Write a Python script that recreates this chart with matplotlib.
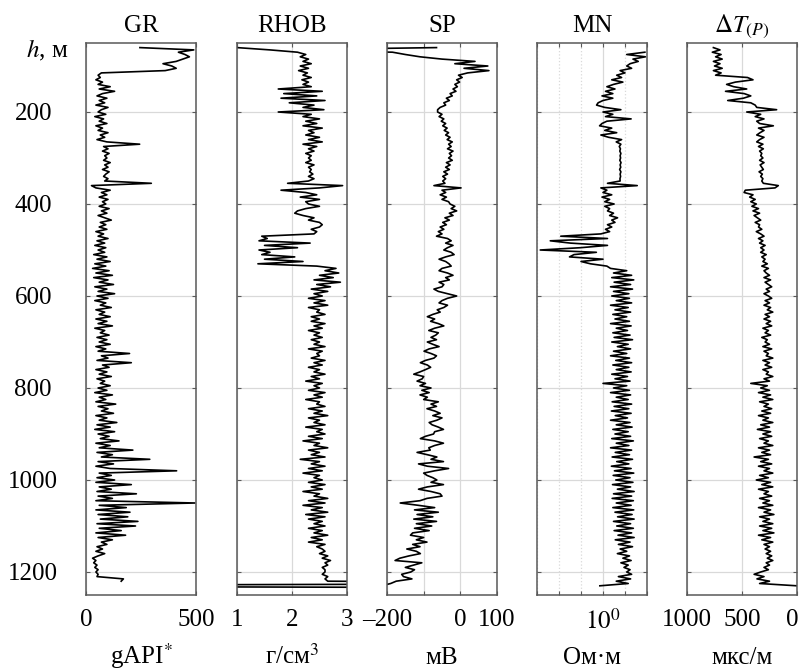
import numpy as np
import matplotlib
matplotlib.use("Agg")
import matplotlib.pyplot as plt
from matplotlib.ticker import NullLocator
from matplotlib.transforms import ScaledTranslation

nan = np.nan

# depth samples, m (one reading every 5 m, 50 ... 1250)
depth = np.arange(50, 1251, 5)

# GR, gAPI
gr = [
    nan, nan, 245, 490, 420, 450, 470, 440, 410, 350,
    390, 410, 360, 70, 55, 65, 45, 75, 55, 110,
    60, 130, 75, 50, 95, 60, 85, 45, 100, 70,
    55, 90, 40, 80, 60, 95, 45, 75, 55, 100,
    65, 85, 50, 95, 244, 80, 100, 75, 105, 85,
    95, 80, 110, 85, 100, 75, 105, 90, 80, 100,
    85, 297, 25, 45, 110, 70, 95, 60, 100, 75,
    90, 60, 105, 70, 95, 55, 85, 115, 65, 90,
    60, 95, 45, 80, 55, 100, 50, 85, 40, 90,
    55, 85, 35, 95, 50, 110, 40, 90, 30, 105,
    45, 120, 35, 100, 60, 125, 40, 95, 55, 130,
    50, 100, 40, 90, 65, 115, 45, 85, 60, 110,
    45, 95, 55, 120, 40, 85, 65, 105, 50, 95,
    60, 110, 45, 90, 55, 198, 70, 100, 50, 206,
    75, 105, 45, 95, 60, 115, 50, 85, 65, 110,
    55, 95, 40, 120, 60, 90, 45, 135, 55, 100,
    70, 125, 45, 95, 60, 140, 50, 110, 40, 130,
    55, 105, 65, 150, 45, 110, 60, 213, 50, 120,
    70, 290, 55, 125, 45, 110, 412, 60, 115, 50,
    130, 45, 206, 60, 115, 50, 229, 55, 120, 45,
    495, 60, 183, 45, 200, 55, 190, 65, 236, 50,
    225, 60, 160, 45, 180, 55, 120, 70, 95, 50,
    75, 45, 85, 55, 30, 45, 35, 50, 40, 55,
    45, 55, 50, 170, 160, nan, nan, nan, nan, nan,
    nan,
]

# RHOB, g/cm3
rhob = [
    nan, nan, 1.0, 1.6, 2.1, 2.25, 2.15, 2.3, 2.2, 2.35,
    2.15, 2.3, 2.12, 2.28, 2.2, 2.35, 2.18, 2.3, 2.2, 2.35,
    1.75, 2.55, 1.85, 2.45, 1.8, 2.6, 1.95, 2.4, 2.2, 2.58,
    1.75, 2.35, 2.2, 2.5, 2.25, 2.45, 2.2, 2.55, 2.3, 2.4,
    2.25, 2.5, 2.3, 2.55, 2.2, 2.45, 2.3, 2.4, 2.25, 2.35,
    2.3, 2.35, 2.25, 2.4, 2.3, 2.35, 2.32, 2.38, 2.3, 2.4,
    2.3, 1.92, 2.92, 2.5, 1.8, 2.25, 2.45, 2.15, 2.5, 2.25,
    2.3, 2.5, 2.25, 2.1, 2.05, 2.2, 2.4, 2.3, 2.5, 2.55,
    2.5, 2.35, 2.45, 2.4, 1.45, 1.55, 1.4, 2.33, 1.5, 2.1,
    1.4, 1.6, 1.45, 2.05, 1.5, 2.2, 1.38, 2.45, 2.8, 2.6,
    2.85, 2.5, 2.75, 2.4, 2.88, 2.45, 2.7, 2.35, 2.65, 2.4,
    2.55, 2.3, 2.6, 2.4, 2.65, 2.3, 2.5, 2.45, 2.6, 2.35,
    2.5, 2.35, 2.6, 2.4, 2.55, 2.3, 2.5, 2.4, 2.55, 2.35,
    2.5, 2.4, 2.6, 2.3, 2.55, 2.45, 2.5, 2.35, 2.6, 2.4,
    2.55, 2.3, 2.5, 2.4, 2.6, 2.35, 2.5, 2.25, 2.55, 2.4,
    2.5, 2.3, 2.6, 2.4, 2.55, 2.25, 2.5, 2.45, 2.6, 2.3,
    2.55, 2.4, 2.65, 2.3, 2.5, 2.4, 2.6, 2.25, 2.55, 2.45,
    2.6, 2.3, 2.55, 2.2, 2.5, 2.4, 2.65, 2.3, 2.5, 2.35,
    2.6, 2.15, 2.5, 2.35, 2.6, 2.3, 2.55, 2.2, 2.5, 2.4,
    2.55, 2.3, 2.6, 2.35, 2.55, 2.2, 2.5, 2.4, 2.65, 2.3,
    2.6, 2.2, 2.55, 2.35, 2.65, 2.25, 2.6, 2.3, 2.55, 2.4,
    2.6, 2.3, 2.55, 2.4, 2.65, 2.35, 2.55, 2.3, 2.6, 2.45,
    2.55, 2.6, 2.5, 2.65, 2.55, 2.7, 2.6, 2.65, 2.55, 2.6,
    2.6, 2.55, 2.65, 2.6, 2.65, 9, -7, 9, nan, nan,
    nan,
]

# SP, mV
sp = [
    nan, nan, -65, -500, -185, -150, -110, -50, 40, -15,
    75, 10, 78, 20, -5, 5, -10, -2, -15, -8,
    -20, -12, -28, -22, -38, -30, -45, -40, -55, -62,
    -62, -50, -58, -45, -52, -40, -48, -36, -44, -32,
    -40, -28, -36, -22, -32, -25, -35, -20, -30, -24,
    -32, -22, -38, -28, -40, -30, -45, -35, -48, -40,
    -48, -42, -72, 2, -50, -40, -55, -38, -50, -32,
    -28, -15, -25, -10, -30, -20, -42, -30, -48, -38,
    -55, -45, -60, -50, -65, -35, -25, -40, -20, -35,
    -45, -25, -17, -40, -58, -40, -31, -25, -50, -58,
    -35, -20, -40, -30, -58, -45, -50, -72, -60, -35,
    -10, -35, -50, -58, -35, -45, -63, -55, -75, -90,
    -70, -81, -60, -45, -70, -86, -60, -67, -80, -65,
    -90, -75, -58, -85, -99, -80, -65, -72, -95, -109,
    -90, -81, -95, -110, -127, -100, -104, -118, -95, -110,
    -80, -105, -85, -110, -90, -100, -60, -80, -65, -91,
    -70, -55, -75, -50, -64, -85, -77, -60, -46, -70,
    -73, -95, -109, -70, -46, -70, -86, -82, -118, -90,
    -64, -80, -46, -114, -90, -32, -70, -100, -91, -75,
    -64, -80, -46, -90, -114, -80, -55, -50, -91, -110,
    -164, -115, -70, -125, -60, -118, -75, -127, -65, -120,
    -78, -125, -85, -130, -136, -100, -120, -91, -130, -110,
    -146, -120, -109, -140, -165, -178, -105, -127, -150, -125,
    -135, -160, -155, -132, -175, -190, -215, nan, nan, nan,
    nan,
]

# MN resistivity, Ohm*m
mn = [
    nan, nan, nan, nan, 80, 12, 85, 23, 40, 17,
    12, 20, 6, 10, 4.2, 7, 2.5, 8, 3, 1.5,
    3.5, 1.3, 2.8, 0.9, 2.8, 1.0, 0.6, 0.51, 1.2, 6.5,
    1.0, 2.8, 1.3, 19, 1.5, 0.9, 0.7, 2.5, 1.2, 4.2,
    0.8, 1.8, 7, 4, 6.5, 5.5, 6.2, 5.8, 6.5, 6,
    6.3, 5.8, 6.6, 6, 6.4, 5.7, 6.5, 6, 6.3, 5.9,
    6, 1.6, 36, 0.8, 1.5, 1.0, 2.5, 0.9, 2.0, 1.2,
    3.2, 1.2, 2.0, 1.6, 3.0, 2.0, 4.6, 2.5, 3.5, 1.6,
    2.5, 1.3, 2.0, 0.8, 0.012, 1.6, 0.004, 0.033, 1.6, 0.095,
    0.0014, 0.5, 0.048, 0.03, 1.0, 0.1, 0.27, 1.5, 2.2, 12,
    3, 20, 2.5, 25, 3.2, 18, 2.2, 22, 3, 15,
    2.5, 16, 4, 20, 2.2, 14, 3.5, 18, 2.8, 12,
    3.5, 16, 2.2, 19, 4, 13, 2.8, 17, 3.2, 22,
    2.5, 14, 4.5, 18, 3, 12, 2.2, 16, 3.8, 20,
    2.8, 15, 4, 19, 2.5, 13, 3.5, 17, 1.0, 12,
    3, 16, 2.2, 18, 4, 14, 2.6, 20, 3.2, 15,
    2.4, 19, 3.6, 13, 2.2, 17, 4, 21, 2.8, 14,
    3.5, 18, 2.5, 24, 4, 15, 2.2, 20, 3.6, 16,
    2.6, 22, 4.2, 15, 2.4, 19, 3.3, 25, 2.9, 17,
    3.8, 23, 2.7, 18, 4.5, 26, 3, 20, 2.6, 24,
    4, 19, 2.8, 25, 3.5, 21, 4.6, 26, 3, 18,
    4.2, 24, 3.2, 20, 4.8, 26, 3.6, 17, 5, 22,
    6, 12, 4.5, 16, 8, 19, 6.5, 14, 9, 17,
    12, 20, 5, 18, 4, 14, 0.72, nan, nan, nan,
    nan,
]

# P-wave slowness, us/m
dt = [
    nan, nan, 760, 700, 770, 690, 740, 680, 760, 700,
    750, 680, 760, 690, 740, 450, 400, 560, 640, 575,
    457, 650, 480, 420, 487, 630, 420, 380, 366, 185,
    457, 330, 380, 300, 366, 340, 215, 350, 300, 336,
    366, 300, 340, 366, 310, 350, 306, 340, 320, 330,
    310, 340, 300, 335, 320, 306, 345, 315, 330, 310,
    320, 306, 170, 200, 470, 481, 400, 430, 380, 420,
    370, 410, 350, 400, 340, 390, 360, 330, 380, 340,
    350, 320, 370, 330, 300, 350, 310, 340, 290, 330,
    300, 330, 280, 320, 290, 310, 270, 320, 260, 300,
    280, 250, 300, 240, 290, 260, 230, 280, 250, 300,
    260, 230, 290, 250, 300, 240, 270, 220, 290, 250,
    300, 240, 280, 230, 310, 260, 290, 240, 320, 270,
    290, 250, 310, 230, 300, 260, 280, 220, 310, 250,
    290, 230, 310, 260, 280, 220, 300, 250, 420, 270,
    330, 250, 350, 240, 310, 220, 340, 260, 300, 230,
    320, 240, 350, 260, 310, 220, 330, 250, 360, 240,
    310, 230, 340, 260, 300, 220, 350, 250, 320, 240,
    390, 260, 330, 230, 350, 250, 300, 220, 340, 260,
    370, 240, 320, 220, 350, 260, 300, 230, 340, 250,
    310, 220, 350, 240, 300, 210, 340, 250, 310, 220,
    340, 230, 310, 210, 350, 240, 320, 220, 300, 250,
    290, 240, 280, 230, 270, 220, 280, 250, 300, 260,
    330, 390, 300, 364, 250, 340, 0, nan, nan, nan,
    nan,
]

track_names = ["GR", "RHOB", "SP", "MN", r"$\Delta T_{(P)}$"]
track_units = [r"gAPI$^{*}$", r"г/см$^{3}$", "мВ", "Ом·м", "мкс/м"]
depth_ticks = [200, 400, 600, 800, 1000, 1200]

plt.rcParams["font.family"] = ["Liberation Serif", "DejaVu Serif"]
plt.rcParams["mathtext.fontset"] = "stix"

W, H = 801, 671
fig = plt.figure(figsize=(W / 100, H / 100), dpi=100)

# track frames in pixels: left edge, top 43, bottom 595, width 110
lefts = [86, 237, 387, 537, 687]
top, bottom, width = 43, 595, 110
fs = 18
frame_col = "0.35"

curves = [gr, rhob, sp, mn, dt]
axes = []
for i, left in enumerate(lefts):
    ax = fig.add_axes([left / W, (H - bottom) / H, width / W, (bottom - top) / H])
    ax.plot(curves[i], depth, color="black", lw=1.2)
    ax.set_ylim(1250, 50)
    ax.set_yticks(depth_ticks)
    ax.grid(True, color="#d9d9d9", lw=0.9)
    ax.set_axisbelow(True)
    ax.tick_params(direction="in", length=3, width=0.8, color=frame_col,
                   top=True, right=True, labelsize=fs, pad=10)
    for sp_ in ax.spines.values():
        sp_.set_color(frame_col)
        sp_.set_linewidth(1.1)
    if i > 0:
        ax.tick_params(axis="y", labelleft=False)
    cx = (left + width / 2) / W
    fig.text(cx, (H - 32) / H, track_names[i], ha="center", va="baseline", fontsize=fs)
    fig.text(cx, (H - 664) / H, track_units[i], ha="center", va="baseline", fontsize=fs)
    axes.append(ax)

# GR
axes[0].set_xlim(0, 500)
axes[0].set_xticks([0, 500])
axes[0].tick_params(axis="y", pad=38)
for lab in axes[0].get_yticklabels():
    lab.set_ha("center")

# RHOB
axes[1].set_xlim(1, 3)
axes[1].set_xticks([1, 2, 3])

# SP
axes[2].set_xlim(-200, 100)
axes[2].set_xticks([-200, -100, 0, 100])
axes[2].set_xticklabels(["–200", "", "0", "100"])

# MN, log scale
ax = axes[3]
ax.set_xscale("log")
ax.set_xlim(1e-3, 1e2)
decades = [1e-3, 1e-2, 1e-1, 1e0, 1e1, 1e2]
ax.set_xticks(decades)
ax.set_xticklabels(["", "", "", r"$10^0$", "", ""])
ax.xaxis.set_minor_locator(NullLocator())
for line, val in zip(ax.xaxis.get_gridlines(), decades):
    if val != 1:
        line.set_linestyle(":")

# slowness, reversed
axes[4].set_xlim(1000, 0)
axes[4].set_xticks([1000, 500, 0])
# keep the last "0" inside the picture
last = axes[4].get_xticklabels()[-1]
last.set_transform(last.get_transform() + ScaledTranslation(-5 / 100, 0, fig.dpi_scale_trans))

fig.text(68 / W, (H - 57) / H, r"$h$, м", ha="right", va="baseline", fontsize=fs)

fig.savefig("out.png", dpi=100)
